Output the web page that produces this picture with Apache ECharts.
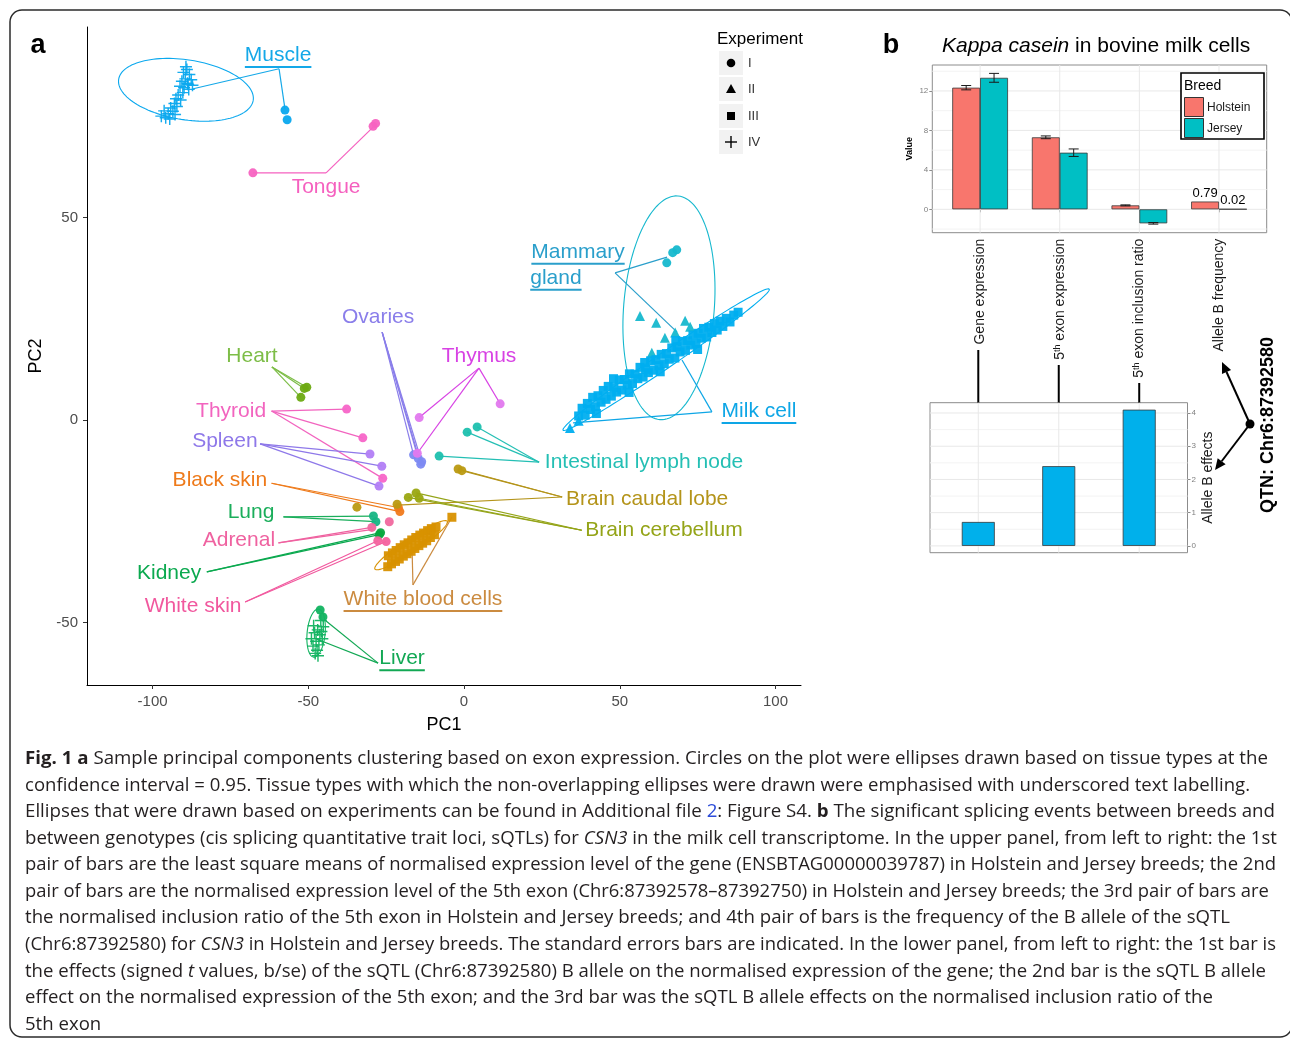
<!DOCTYPE html>
<html>
<head>
<meta charset="utf-8">
<script src="https://cdn.jsdelivr.net/npm/echarts@6/dist/echarts.min.js"></script>
<style>
  html, body { margin: 0; padding: 0; background: #fff; }
  #chart { position: absolute; left: 0; top: 0; width: 1290px; height: 1040px; }
  #caption { position: absolute; left: 0; top: 0; width: 1290px; height: 1040px; pointer-events: none;
             font-family: "Open Sans", "Noto Sans", sans-serif; color: #231f20; }
  .cl { position: absolute; left: 25px; white-space: nowrap; transform-origin: 0 50%; font-size: 18px; line-height: 22px; }
  .cl b { font-weight: 700; }
  .cl .lnk { color: #2b4bd8; }
</style>
</head>
<body>
<div id="chart"></div>
<div id="caption"></div>
<script>
// ---------- Panel a: PCA of exon expression ----------
const tissues = ['Muscle', 'Tongue', 'Mammary gland', 'Milk cell', 'Ovaries', 'Heart', 'Thymus', 'Thyroid',
  'Spleen', 'Black skin', 'Lung', 'Adrenal', 'Kidney', 'White skin', 'White blood cells', 'Liver',
  'Intestinal lymph node', 'Brain caudal lobe', 'Brain cerebellum'];
const experiments = ['I', 'II', 'III', 'IV'];

// sample scores [PC1, PC2, tissue index], one list per experiment
const expI = [
  [-57.5, 76.5, 0], [-56.8, 74.1, 0],
  [-67.8, 61.0, 1], [-29.2, 72.5, 1], [-28.4, 73.2, 1],
  [68.3, 42.0, 2], [67.0, 41.3, 2], [65.1, 38.8, 2],
  [-16.2, -8.6, 4], [-14.7, -9.5, 4], [-13.6, -10.3, 4], [-13.9, -10.9, 4],
  [-50.5, 8.1, 5], [-51.3, 7.8, 5], [-52.4, 5.6, 5],
  [-14.4, 0.6, 6], [-15.0, -8.2, 6], [11.6, 4.0, 6],
  [-37.7, 2.7, 7], [-32.5, -4.4, 7], [-26.1, -14.4, 7],
  [-30.2, -8.4, 8], [-26.4, -11.4, 8], [-27.3, -16.3, 8],
  [-21.1, -21.6, 9], [-20.6, -22.6, 9],
  [-29.1, -23.7, 10], [-28.3, -25.1, 10],
  [-29.6, -26.5, 11], [-24.0, -25.1, 11],
  [-26.8, -27.8, 12], [-27.2, -28.3, 12],
  [-27.7, -29.8, 13], [-25.0, -30.0, 13],
  [-46.2, -46.9, 15], [-45.3, -48.6, 15],
  [1.0, -3.0, 16], [4.2, -1.7, 16], [-8.0, -8.9, 16],
  [-1.9, -12.1, 17], [-0.7, -12.5, 17], [-34.4, -21.5, 17], [-21.5, -20.8, 17],
  [-17.9, -19.1, 18], [-15.4, -18.0, 18], [-14.4, -19.3, 18]
];
const expII = [
  [56.5, 25.7, 2], [61.7, 24.0, 2], [71.0, 24.5, 2], [64.5, 20.3, 2], [67.8, 21.6, 2], [60.3, 16.6, 2], [72.6, 23.0, 2],
  [34.0, -2.0, 3], [36.8, -0.2, 3]
];
const expIII = [
  // milk cell
  [36.8, 1.0, 3], [37.9, 2.9, 3], [38.9, 1.2, 3], [39.6, 4.1, 3], [40.6, 2.6, 3], [41.3, 5.6, 3], [42.2, 3.3, 3],
  [43.0, 6.0, 3], [44.0, 4.4, 3], [44.7, 7.3, 3], [45.6, 5.1, 3], [46.3, 8.3, 3], [47.3, 5.9, 3], [48.1, 8.0, 3],
  [49.0, 6.9, 3], [49.8, 9.9, 3], [50.7, 7.4, 3], [51.5, 10.0, 3], [52.4, 8.6, 3], [53.1, 11.4, 3], [54.1, 9.0, 3],
  [54.9, 11.3, 3], [55.8, 10.2, 3], [56.5, 13.0, 3], [57.5, 10.6, 3], [58.3, 12.5, 3], [59.2, 11.7, 3], [59.9, 14.6, 3],
  [60.9, 12.3, 3], [61.6, 14.9, 3], [62.6, 13.4, 3], [63.3, 16.2, 3], [64.3, 13.9, 3], [65.0, 16.4, 3], [65.9, 15.0, 3],
  [66.7, 17.8, 3], [67.7, 15.3, 3], [68.4, 18.1, 3], [69.4, 16.8, 3], [70.1, 19.4, 3], [71.1, 17.2, 3], [71.8, 19.6, 3],
  [72.8, 18.5, 3], [73.5, 21.0, 3], [74.5, 18.9, 3], [75.2, 21.4, 3], [76.2, 20.2, 3], [76.9, 22.6, 3], [77.9, 20.5, 3],
  [78.6, 22.9, 3], [79.6, 21.6, 3], [80.4, 23.8, 3], [81.3, 22.2, 3], [82.2, 24.4, 3], [83.1, 23.1, 3], [84.2, 25.1, 3],
  [85.4, 24.2, 3], [86.6, 25.9, 3], [88.0, 26.6, 3], [58.0, 14.2, 3], [68.0, 19.6, 3], [48.0, 10.2, 3], [75.0, 17.4, 3],
  [53.0, 6.8, 3], [42.5, 1.6, 3], [63.0, 11.9, 3],
  // white blood cells
  [-24.5, -36.2, 14], [-24.3, -33.5, 14], [-23.3, -35.5, 14], [-23.0, -32.8, 14], [-22.0, -34.9, 14], [-21.8, -32.2, 14],
  [-20.8, -34.3, 14], [-20.5, -31.5, 14], [-19.5, -33.6, 14], [-19.2, -30.8, 14], [-18.3, -33.0, 14], [-18.0, -30.3, 14],
  [-17.0, -32.4, 14], [-16.8, -29.6, 14], [-15.8, -31.7, 14], [-15.5, -29.0, 14], [-14.5, -31.0, 14], [-14.2, -28.4, 14],
  [-13.3, -30.4, 14], [-13.0, -27.9, 14], [-12.0, -29.8, 14], [-11.7, -27.3, 14], [-10.8, -29.0, 14], [-10.5, -26.8, 14],
  [-9.5, -28.3, 14], [-9.0, -26.4, 14], [-3.9, -24.0, 14]
];
const expIV = [
  // muscle
  [-89.0, 86.5, 0], [-88.2, 85.3, 0], [-90.1, 85.8, 0], [-89.5, 84.2, 0], [-87.6, 84.0, 0], [-88.8, 83.1, 0],
  [-90.6, 83.6, 0], [-87.2, 82.6, 0], [-89.9, 82.0, 0], [-88.4, 81.6, 0], [-91.2, 82.4, 0], [-90.3, 80.8, 0],
  [-91.8, 80.2, 0], [-92.5, 79.3, 0], [-91.0, 79.0, 0], [-93.0, 78.1, 0], [-92.2, 77.4, 0], [-94.2, 77.0, 0],
  [-93.5, 76.2, 0], [-95.0, 75.6, 0], [-96.3, 76.3, 0], [-95.8, 74.6, 0], [-97.2, 75.0, 0], [-94.5, 74.3, 0],
  [-92.8, 75.4, 0], [-89.3, 87.2, 0], [-88.6, 82.8, 0],
  // liver
  [-46.0, -49.5, 15], [-45.2, -51.0, 15], [-47.0, -51.8, 15], [-46.3, -53.0, 15], [-48.0, -52.5, 15],
  [-45.5, -54.0, 15], [-47.5, -54.6, 15], [-46.6, -55.5, 15], [-48.5, -55.8, 15], [-47.2, -56.8, 15],
  [-49.0, -54.0, 15], [-45.8, -52.2, 15], [-47.8, -57.6, 15], [-46.9, -58.2, 15], [-48.3, -50.8, 15]
];

// 95% tissue ellipses: [tissue, centre PC1, centre PC2, semi-axis 1 (dPC1, dPC2), conjugate semi-axis 2 (dPC1, dPC2)]
const ellipses = [
  [0, -89.3, 81.5, 21.6, -2.6, -1.5, -7.3],
  [2, 65.8, 27.7, 2.9, 27.6, 14.5, -0.9],
  [3, 64.9, 14.9, 33.1, 17.4, 1.45, -1.63],
  [14, -17.0, -30.9, 11.6, 5.9, 1.25, -1.43],
  [15, -47.5, -52.6, 0.64, 5.93, 2.9, 0]
];

// tissue labels: text, tissue, placement in PC space, underscored when the ellipse does not overlap
const labelText = ['Muscle', 'Tongue', 'Mammary', 'gland', 'Ovaries', 'Heart', 'Thymus', 'Thyroid', 'Spleen',
  'Black skin', 'Lung', 'Adrenal', 'Kidney', 'White skin', 'White blood cells', 'Liver',
  'Intestinal lymph node', 'Brain caudal lobe', 'Brain cerebellum', 'Milk cell'];
const labelTissue = [0, 1, 2, 2, 4, 5, 6, 7, 8, 9, 10, 11, 12, 13, 14, 15, 16, 17, 18, 3];
const labelPos = [[-59.7, 90.1], [-44.3, 57.5], [36.6, 41.5], [29.5, 35.1], [-27.6, 25.4], [-68.1, 15.8],
  [4.8, 15.8], [-74.8, 2.2], [-76.8, -5.2], [-78.4, -14.8], [-68.4, -22.7], [-72.3, -29.6], [-94.7, -37.8],
  [-87.0, -45.9], [-13.2, -44.2], [-19.9, -58.8], [57.8, -10.4], [58.8, -19.5], [64.2, -27.2], [94.7, 2.2]];
const labelUnderscored = [1, 0, 1, 1, 0, 0, 0, 0, 0, 0, 0, 0, 0, 0, 1, 1, 0, 0, 0, 1];

// label leader segments: start next to each tissue label, end at the labelled samples
const leaderStart = [[-59.4, 86.7], [-44.3, 61.0], [48.5, 36.3], [79.6, 2.0], [-26.3, 21.7], [-61.7, 13.1],
  [4.8, 12.8], [-61.8, 2.2], [-65.5, -5.9], [-61.8, -15.6], [-58.0, -23.9], [-59.6, -30.3], [-82.6, -37.5],
  [-70.3, -44.9], [-16.4, -40.7], [-27.6, -60.0], [24.1, -10.4], [31.5, -19.0], [37.8, -27.2]];
const leaderEnd = [
  [0, -87.3, 81.7], [0, -57.5, 76.8],
  [1, -67.8, 61.0], [1, -29.2, 72.3],
  [2, 65.2, 40.2], [2, 68.4, 21.7],
  [3, 70.0, 14.8], [3, 35.0, -0.7],
  [4, -16.2, -8.6], [4, -14.7, -9.5], [4, -13.6, -10.3], [4, -13.9, -10.9],
  [5, -50.5, 8.1], [5, -51.3, 7.8], [5, -52.4, 5.6],
  [6, -14.4, 0.6], [6, -15.0, -8.2], [6, 11.6, 4.0],
  [7, -37.7, 2.7], [7, -32.5, -4.4], [7, -26.1, -14.4],
  [8, -30.2, -8.4], [8, -26.4, -11.4], [8, -27.3, -16.3],
  [9, -21.1, -21.6], [9, -20.6, -22.6],
  [10, -29.1, -23.7], [10, -28.3, -25.1],
  [11, -29.6, -26.5], [11, -29.2, -27.0],
  [12, -26.8, -27.8], [12, -27.2, -28.3],
  [13, -27.7, -29.8], [13, -25.0, -30.0],
  [14, -16.7, -31.6], [14, -3.9, -24.0],
  [15, -44.6, -49.4], [15, -47.2, -54.1],
  [16, 1.0, -3.0], [16, 4.2, -1.7], [16, -8.0, -8.9],
  [17, -1.9, -12.1], [17, -0.7, -12.5], [17, -21.2, -21.0],
  [18, -17.9, -19.1], [18, -15.4, -18.0], [18, -14.4, -19.3]
];
const pc1Ticks = [-100, -50, 0, 50, 100];
const pc2Ticks = [-50, 0, 50];

// ---------- Panel b: CSN3 in bovine milk cells ----------
const measures = ['Gene expression', '5th exon expression', '5th exon inclusion ratio', 'Allele B frequency'];
const breeds = ['Holstein', 'Jersey'];
const holstein = [12.33, 7.30, 0.40, 0.79];
const jersey = [13.33, 5.74, -1.42, 0.02];
const holsteinSE = [0.22, 0.14, 0.05, null];
const jerseySE = [0.45, 0.38, 0.08, null];
const valueTicks = [0, 4, 8, 12];
const valueMinorTicks = [-2, 2, 6, 10, 14];

const effectMeasures = ['Gene expression', '5th exon expression', '5th exon inclusion ratio'];
const alleleBEffects = [0.72, 2.40, 4.10];
const effectTicks = [0, 1, 2, 3, 4];
const effectMinorTicks = [0.5, 1.5, 2.5, 3.5];

// ---------- styling ----------
const tissueColors = ['#0aa8ee', '#f763c1', '#16b8ce', '#00aeef', '#7d8af2', '#6daa12', '#e279ee', '#f765c8',
  '#b27ef6', '#f07a1c', '#16b584', '#f0689e', '#07a83f', '#f4629e', '#d89100', '#11b360', '#1ec0ae',
  '#ba9a12', '#9aa711'];
const labelColors = ['#14a8e8', '#f560bf', '#2a9fcb', '#0ea6e6', '#8a7eea', '#7dbd47', '#d842e4', '#f264bf',
  '#8e78e9', '#ee7a1a', '#1bae5b', '#ef62a0', '#0ba94f', '#f1589e', '#cb8b40', '#12a854', '#24bfb4',
  '#b4941a', '#94a418'];
const breedColors = ['#f8766d', '#00bfc4'];
const LABEL_FONT = '21px "Liberation Sans", Arial, sans-serif';
const SANS = '"Liberation Sans", Arial, sans-serif';

const measureCtx = document.createElement('canvas').getContext('2d');
function textWidth(t, font) { measureCtx.font = font; return measureCtx.measureText(t).width; }

const crossPath = 'path://M0,0.44H1V0.56H0Z M0.44,0H0.56V1H0.44Z';

function richMeasure(v) {
  if (v.indexOf('5th ') === 0) return '{n|5}{s|th}{n|' + v.slice(3) + '}';
  return '{n|' + v + '}';
}

function hGridItems(major, minor) {
  return major.map(v => [0.5, v, 1]).concat(minor.map(v => [0.5, v, 0]));
}

const errorData = [];
holstein.forEach((v, i) => { if (holsteinSE[i] != null) errorData.push([i, v, holsteinSE[i], 0]); });
jersey.forEach((v, i) => { if (jerseySE[i] != null) errorData.push([i, v, jerseySE[i], 1]); });

const chart = echarts.init(document.getElementById('chart'));

const option = {
  backgroundColor: '#fff',
  animation: false,
  grid: [
    { left: 87, top: 27, width: 714, height: 658 },
    { left: 932.3, top: 65, width: 334.4, height: 167.7, show: true, borderColor: '#8c8c8c', borderWidth: 1, backgroundColor: 'transparent', z: 0 },
    { left: 940.3, top: 65, width: 318.5, height: 167.7 },
    { left: 930, top: 402.7, width: 257.5, height: 150, show: true, borderColor: '#8c8c8c', borderWidth: 1, backgroundColor: 'transparent', z: 0 },
    { left: 938.05, top: 402.7, width: 241.4, height: 150 }
  ],
  xAxis: [
    { type: 'value', gridIndex: 0, min: -121.07, max: 108.2, splitLine: { show: false },
      axisLine: { onZero: false, lineStyle: { color: '#000', width: 1 } },
      axisTick: { customValues: pc1Ticks, length: 4, lineStyle: { color: '#333' } },
      axisLabel: { customValues: pc1Ticks, color: '#4d4d4d', fontSize: 15, fontFamily: SANS, margin: 9 },
      name: 'PC1', nameLocation: 'middle', nameGap: 31,
      nameTextStyle: { color: '#000', fontSize: 18, fontFamily: SANS } },
    { type: 'value', gridIndex: 1, min: 0, max: 1, show: false },
    { type: 'category', gridIndex: 2, data: measures, boundaryGap: true,
      axisLine: { show: false },
      axisTick: { show: true, alignWithLabel: true, length: 3, lineStyle: { color: '#8c8c8c' } },
      splitLine: { show: false },
      axisLabel: { rotate: 90, margin: 6, interval: 0, formatter: richMeasure,
        rich: { n: { fontSize: 14, color: '#1a1a1a', fontFamily: SANS },
                s: { fontSize: 9, color: '#1a1a1a', fontFamily: SANS, verticalAlign: 'top' } } } },
    { type: 'value', gridIndex: 3, min: 0, max: 1, show: false },
    { type: 'category', gridIndex: 4, data: effectMeasures, boundaryGap: true, show: false }
  ],
  yAxis: [
    { type: 'value', gridIndex: 0, min: -65.4, max: 97.0, splitLine: { show: false },
      axisLine: { show: true, onZero: false, lineStyle: { color: '#000', width: 1 } },
      axisTick: { show: true, customValues: pc2Ticks, length: 4, lineStyle: { color: '#333' } },
      axisLabel: { customValues: pc2Ticks, color: '#4d4d4d', fontSize: 15, fontFamily: SANS, margin: 9 },
      name: 'PC2', nameLocation: 'middle', nameGap: 39, nameRotate: 90,
      nameTextStyle: { color: '#000', fontSize: 18, fontFamily: SANS } },
    { type: 'value', gridIndex: 1, min: -2.37, max: 14.63, splitLine: { show: false },
      axisLine: { show: false, onZero: false },
      axisTick: { show: true, customValues: valueTicks, length: 3, lineStyle: { color: '#8c8c8c' } },
      axisLabel: { customValues: valueTicks, color: '#7f7f7f', fontSize: 8, fontFamily: SANS, margin: 4 },
      name: 'Value', nameLocation: 'middle', nameGap: 18, nameRotate: 90,
      nameTextStyle: { color: '#000', fontSize: 9, fontWeight: 'bold', fontFamily: SANS } },
    { type: 'value', gridIndex: 2, min: -2.37, max: 14.63, show: false },
    { type: 'value', gridIndex: 3, min: -0.205, max: 4.31, position: 'right', splitLine: { show: false },
      axisLine: { show: false, onZero: false },
      axisTick: { show: true, customValues: effectTicks, length: 3, lineStyle: { color: '#8c8c8c' } },
      axisLabel: { customValues: effectTicks, color: '#7f7f7f', fontSize: 8, fontFamily: SANS, margin: 4 },
      name: 'Allele B effects', nameLocation: 'middle', nameGap: 14, nameRotate: 90,
      nameTextStyle: { color: '#1a1a1a', fontSize: 14, fontFamily: SANS } },
    { type: 'value', gridIndex: 4, min: -0.205, max: 4.31, show: false }
  ],
  series: [
    // confidence ellipses
    { type: 'custom', name: 'ellipses', xAxisIndex: 0, yAxisIndex: 0, z: 1, silent: true,
      data: ellipses, encode: { x: 1, y: 2 },
      renderItem(params, api) {
        const t0 = api.value(0), cx = api.value(1), cy = api.value(2);
        const ax = api.value(3), ay = api.value(4), bx = api.value(5), by = api.value(6);
        const pts = [];
        for (let k = 0; k <= 120; k++) {
          const a = k / 120 * Math.PI * 2, c = Math.cos(a), s = Math.sin(a);
          pts.push(api.coord([cx + ax * c + bx * s, cy + ay * c + by * s]));
        }
        return { type: 'polyline', shape: { points: pts }, style: { fill: 'none', stroke: tissueColors[t0], lineWidth: 1.1 } };
      } },
    // leader segments
    { type: 'custom', name: 'leaders', xAxisIndex: 0, yAxisIndex: 0, z: 2, silent: true,
      data: leaderEnd.map(d => [leaderStart[d[0]][0], leaderStart[d[0]][1], d[1], d[2], d[0]]),
      encode: { x: [0, 2], y: [1, 3] },
      renderItem(params, api) {
        const a = api.coord([api.value(0), api.value(1)]);
        const b = api.coord([api.value(2), api.value(3)]);
        return { type: 'line', shape: { x1: a[0], y1: a[1], x2: b[0], y2: b[1] },
          style: { stroke: labelColors[api.value(4)], lineWidth: 1.2 } };
      } },
    { type: 'scatter', name: 'I', xAxisIndex: 0, yAxisIndex: 0, z: 3, symbol: 'circle', symbolSize: 9,
      data: expI, itemStyle: { color: p => tissueColors[p.data[2]], opacity: 0.95 } },
    { type: 'scatter', name: 'II', xAxisIndex: 0, yAxisIndex: 0, z: 3, symbol: 'triangle', symbolSize: 10,
      data: expII, itemStyle: { color: p => tissueColors[p.data[2]], opacity: 0.95 } },
    { type: 'scatter', name: 'III', xAxisIndex: 0, yAxisIndex: 0, z: 3, symbol: 'rect', symbolSize: 9,
      data: expIII, itemStyle: { color: p => tissueColors[p.data[2]], opacity: 0.95 } },
    { type: 'scatter', name: 'IV', xAxisIndex: 0, yAxisIndex: 0, z: 3, symbol: crossPath, symbolSize: 12,
      data: expIV, itemStyle: { color: p => tissueColors[p.data[2]], opacity: 0.95 } },
    // tissue labels
    { type: 'custom', name: 'labels', xAxisIndex: 0, yAxisIndex: 0, z: 4, silent: true, clip: false,
      data: labelPos, encode: { x: 0, y: 1 },
      renderItem(params, api) {
        const i = params.dataIndex;
        const p = api.coord([api.value(0), api.value(1)]);
        const col = labelColors[labelTissue[i]];
        const kids = [{ type: 'text', x: p[0], y: p[1],
          style: { text: labelText[i], font: LABEL_FONT, fill: col, align: 'center', verticalAlign: 'middle' } }];
        if (labelUnderscored[i]) {
          const w = textWidth(labelText[i], LABEL_FONT);
          kids.push({ type: 'line', shape: { x1: p[0] - w / 2, y1: p[1] + 12, x2: p[0] + w / 2, y2: p[1] + 12 },
            style: { stroke: col, lineWidth: 2 } });
        }
        return { type: 'group', children: kids };
      } },

    // ----- panel b, upper -----
    { type: 'custom', name: 'valueGrid', xAxisIndex: 1, yAxisIndex: 1, z: 1, silent: true,
      data: hGridItems(valueTicks, valueMinorTicks), encode: { x: 0, y: 1 },
      renderItem(params, api) {
        const cs = params.coordSys; const y = api.coord([0.5, api.value(1)])[1];
        return { type: 'line', shape: { x1: cs.x, y1: y, x2: cs.x + cs.width, y2: y },
          style: { stroke: api.value(2) ? '#e8e8e8' : '#f3f3f3', lineWidth: 1 } };
      } },
    { type: 'custom', name: 'measureGrid', xAxisIndex: 2, yAxisIndex: 2, z: 1, silent: true,
      data: measures.map(m => [m, 0]), encode: { x: 0, y: 1 },
      renderItem(params, api) {
        const cs = params.coordSys; const x = api.coord([api.value(0), 0])[0];
        return { type: 'line', shape: { x1: x, y1: cs.y, x2: x, y2: cs.y + cs.height },
          style: { stroke: '#e8e8e8', lineWidth: 1 } };
      } },
    { type: 'bar', name: breeds[0], xAxisIndex: 2, yAxisIndex: 2, z: 3, data: holstein,
      barWidth: '35%', barGap: '0%',
      itemStyle: { color: breedColors[0], borderColor: '#3a3a3a', borderWidth: 0.8 },
      label: { show: true, position: 'top', distance: 2, color: '#000', fontSize: 13, fontFamily: SANS,
        formatter: p => (p.dataIndex === 3 ? String(p.value) : '') } },
    { type: 'bar', name: breeds[1], xAxisIndex: 2, yAxisIndex: 2, z: 3, data: jersey,
      barWidth: '35%', barGap: '0%',
      itemStyle: { color: breedColors[1], borderColor: '#3a3a3a', borderWidth: 0.8 },
      label: { show: true, position: 'top', distance: 2, color: '#000', fontSize: 13, fontFamily: SANS,
        formatter: p => (p.dataIndex === 3 ? String(p.value) : '') } },
    { type: 'custom', name: 'se', xAxisIndex: 2, yAxisIndex: 2, z: 4, silent: true,
      data: errorData, encode: { x: 0, y: 1 },
      renderItem(params, api) {
        const c = api.coord([api.value(0), api.value(1)]);
        const band = api.size([1, 0])[0];
        const x = c[0] + (api.value(3) === 0 ? -1 : 1) * band * 0.175;
        const hi = api.coord([api.value(0), api.value(1) + api.value(2)])[1];
        const lo = api.coord([api.value(0), api.value(1) - api.value(2)])[1];
        const hw = 5, st = { stroke: '#1a1a1a', lineWidth: 1 };
        return { type: 'group', children: [
          { type: 'line', shape: { x1: x, y1: hi, x2: x, y2: lo }, style: st },
          { type: 'line', shape: { x1: x - hw, y1: hi, x2: x + hw, y2: hi }, style: st },
          { type: 'line', shape: { x1: x - hw, y1: lo, x2: x + hw, y2: lo }, style: st }
        ] };
      } },

    // ----- panel b, lower -----
    { type: 'custom', name: 'effectGrid', xAxisIndex: 3, yAxisIndex: 3, z: 1, silent: true,
      data: hGridItems(effectTicks, effectMinorTicks), encode: { x: 0, y: 1 },
      renderItem(params, api) {
        const cs = params.coordSys; const y = api.coord([0.5, api.value(1)])[1];
        return { type: 'line', shape: { x1: cs.x, y1: y, x2: cs.x + cs.width, y2: y },
          style: { stroke: api.value(2) ? '#e8e8e8' : '#f3f3f3', lineWidth: 1 } };
      } },
    { type: 'custom', name: 'effectMeasureGrid', xAxisIndex: 4, yAxisIndex: 4, z: 1, silent: true,
      data: effectMeasures.map(m => [m, 0]), encode: { x: 0, y: 1 },
      renderItem(params, api) {
        const cs = params.coordSys; const x = api.coord([api.value(0), 0])[0];
        return { type: 'line', shape: { x1: x, y1: cs.y, x2: x, y2: cs.y + cs.height },
          style: { stroke: '#e8e8e8', lineWidth: 1 } };
      } },
    { type: 'bar', name: 'Allele B effects', xAxisIndex: 4, yAxisIndex: 4, z: 3, data: alleleBEffects,
      barWidth: '41%', itemStyle: { color: '#00b0eb', borderColor: '#3a3a3a', borderWidth: 0.8 } }
  ]
};

chart.setOption(option);

// ---------- annotations ----------
function arrow(x1, y1, x2, y2) {
  const dx = x2 - x1, dy = y2 - y1, L = Math.hypot(dx, dy), ux = dx / L, uy = dy / L;
  const hl = 11, hw = 5, bx = x2 - ux * hl, by = y2 - uy * hl;
  return [
    { type: 'line', shape: { x1, y1, x2: bx, y2: by }, style: { stroke: '#000', lineWidth: 2 } },
    { type: 'polygon', shape: { points: [[x2, y2], [bx - uy * hw, by + ux * hw], [bx + uy * hw, by - ux * hw]] }, style: { fill: '#000' } }
  ];
}

const g = [];
// outer frame
g.push({ type: 'rect', shape: { x: 10, y: 10, width: 1282, height: 1027, r: 12 }, style: { fill: 'none', stroke: '#2b2b2b', lineWidth: 1.5 }, z: 0 });
g.push({ type: 'text', x: 38, y: 46, style: { text: 'a', font: 'bold 27px ' + SANS, fill: '#000', align: 'center', verticalAlign: 'middle' } });
g.push({ type: 'text', x: 891, y: 46, style: { text: 'b', font: 'bold 27px ' + SANS, fill: '#000', align: 'center', verticalAlign: 'middle' } });

// experiment key
g.push({ type: 'text', x: 717, y: 39, style: { text: 'Experiment', font: '17px ' + SANS, fill: '#000', align: 'left', verticalAlign: 'middle' } });
const keyY = [63, 89, 116, 142];
experiments.forEach((e, i) => {
  const cy = keyY[i];
  g.push({ type: 'rect', shape: { x: 719, y: cy - 12, width: 24, height: 24 }, style: { fill: '#f2f2f2' } });
  g.push({ type: 'text', x: 748, y: cy, style: { text: e, font: '13px ' + SANS, fill: '#333', align: 'left', verticalAlign: 'middle' } });
});
g.push({ type: 'circle', shape: { cx: 731, cy: keyY[0], r: 4.3 }, style: { fill: '#000' } });
g.push({ type: 'polygon', shape: { points: [[731, keyY[1] - 5], [736, keyY[1] + 4], [726, keyY[1] + 4]] }, style: { fill: '#000' } });
g.push({ type: 'rect', shape: { x: 727, y: keyY[2] - 4, width: 8, height: 8 }, style: { fill: '#000' } });
g.push({ type: 'line', shape: { x1: 725, y1: keyY[3], x2: 737, y2: keyY[3] }, style: { stroke: '#000', lineWidth: 1.4 } });
g.push({ type: 'line', shape: { x1: 731, y1: keyY[3] - 6, x2: 731, y2: keyY[3] + 6 }, style: { stroke: '#000', lineWidth: 1.4 } });

// panel b title
g.push({ type: 'text', x: 942, y: 46, style: {
  text: '{i|Kappa casein}{n| in bovine milk cells}', align: 'left', verticalAlign: 'middle',
  rich: { i: { fontStyle: 'italic', fontSize: 21, fontFamily: SANS, fill: '#000', color: '#000' },
          n: { fontSize: 21, fontFamily: SANS, fill: '#000', color: '#000' } } } });

// breed key
g.push({ type: 'rect', shape: { x: 1181, y: 73, width: 83, height: 66 }, style: { fill: '#fff', stroke: '#000', lineWidth: 1.6 }, z: 10 });
g.push({ type: 'text', x: 1184, y: 86, z: 11, style: { text: 'Breed', font: '14px ' + SANS, fill: '#000', align: 'left', verticalAlign: 'middle' } });
breeds.forEach((b, i) => {
  const y0 = 97.5 + i * 21;
  g.push({ type: 'rect', z: 11, shape: { x: 1184.5, y: y0, width: 19, height: 19 }, style: { fill: breedColors[i], stroke: '#333', lineWidth: 1 } });
  g.push({ type: 'text', z: 11, x: 1207, y: y0 + 10, style: { text: b, font: '12px ' + SANS, fill: '#1a1a1a', align: 'left', verticalAlign: 'middle' } });
});

// connectors from the lower bars to their measure labels
const connectorTop = [350, 365, 383];
effectMeasures.forEach((m, i) => {
  const x = chart.convertToPixel({ gridIndex: 4 }, [i, 0])[0];
  g.push({ type: 'line', shape: { x1: x, y1: connectorTop[i], x2: x, y2: 402.7 }, style: { stroke: '#000', lineWidth: 2 } });
});

// QTN arrows
g.push({ type: 'circle', shape: { cx: 1250, cy: 424, r: 4.5 }, style: { fill: '#000' } });
arrow(1250, 424, 1222, 362).forEach(e => g.push(e));
arrow(1250, 424, 1215, 470).forEach(e => g.push(e));
g.push({ type: 'text', x: 1268, y: 425, rotation: Math.PI / 2,
  style: { text: 'QTN: Chr6:87392580', font: 'bold 18px ' + SANS, fill: '#000', align: 'center', verticalAlign: 'middle' } });

chart.setOption({ graphic: { elements: g } });

// ---------- caption ----------
const captionLines = [
  '<b>Fig. 1 a</b> Sample principal components clustering based on exon expression. Circles on the plot were ellipses drawn based on tissue types at the',
  'confidence interval = 0.95. Tissue types with which the non-overlapping ellipses were drawn were emphasised with underscored text labelling.',
  'Ellipses that were drawn based on experiments can be found in Additional file <span class="lnk">2</span>: Figure S4. <b>b</b> The significant splicing events between breeds and',
  'between genotypes (cis splicing quantitative trait loci, sQTLs) for <i>CSN3</i> in the milk cell transcriptome. In the upper panel, from left to right: the 1st',
  'pair of bars are the least square means of normalised expression level of the gene (ENSBTAG00000039787) in Holstein and Jersey breeds; the 2nd',
  'pair of bars are the normalised expression level of the 5th exon (Chr6:87392578\u201387392750) in Holstein and Jersey breeds; the 3rd pair of bars are',
  'the normalised inclusion ratio of the 5th exon in Holstein and Jersey breeds; and 4th pair of bars is the frequency of the B allele of the sQTL',
  '(Chr6:87392580) for <i>CSN3</i> in Holstein and Jersey breeds. The standard errors bars are indicated. In the lower panel, from left to right: the 1st bar is',
  'the effects (signed <i>t</i> values, b/se) of the sQTL (Chr6:87392580) B allele on the normalised expression of the gene; the 2nd bar is the sQTL B allele',
  'effect on the normalised expression of the 5th exon; and the 3rd bar was the sQTL B allele effects on the normalised inclusion ratio of the',
  '5th exon'
];
const captionRight = [1268, 1250, 1275, 1277, 1276, 1269, 1230, 1276, 1266, 1213, null];
const captionY = [757, 784, 810, 837, 863, 890, 916, 943, 970, 996, 1023];
const cap = document.getElementById('caption');
let lastScale = 1;
captionLines.forEach((html, i) => {
  const d = document.createElement('div');
  d.className = 'cl';
  d.innerHTML = html;
  d.style.top = (captionY[i] - 11) + 'px';
  cap.appendChild(d);
  const w = d.getBoundingClientRect().width;
  const s = captionRight[i] ? (captionRight[i] - 25) / w : lastScale;
  lastScale = s;
  d.style.transform = 'scaleX(' + s.toFixed(4) + ')';
});
</script>
</body>
</html>
